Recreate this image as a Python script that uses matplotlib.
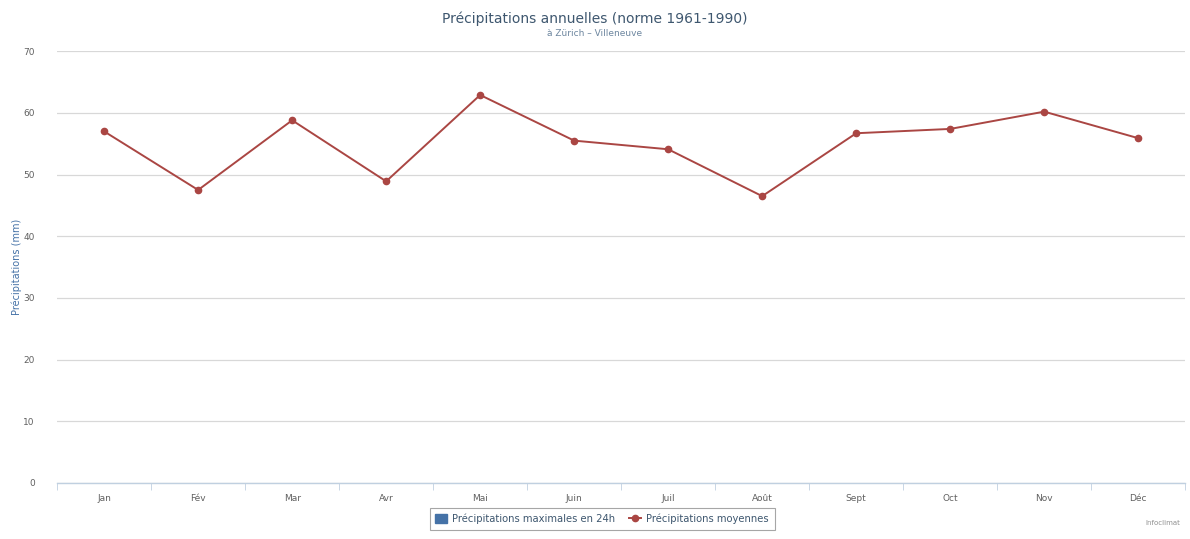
import matplotlib.pyplot as plt
from matplotlib.lines import Line2D
from matplotlib.patches import Patch
import numpy as np

months = ['Jan', 'Fév', 'Mar', 'Avr', 'Mai', 'Juin',
          'Juil', 'Août', 'Sept', 'Oct', 'Nov', 'Déc']
precip_moy = [57.0, 47.5, 58.8, 48.9, 62.9, 55.5,
              54.1, 46.5, 56.7, 57.4, 60.2, 55.9]
yticks = [0, 10, 20, 30, 40, 50, 60, 70]

red = '#AA4643'
blue = '#4572A7'
grid = '#D8D8D8'
txt = '#606060'

fig = plt.figure(figsize = (11.9, 5.39), dpi = 100)
ax = fig.add_axes([0.048, 0.104, 0.948, 0.801])

x = np.arange(len(months))
ax.plot(x, precip_moy, color = red, lw = 1.4, marker = 'o',
        ms = 4.5, mfc = red, mec = red, zorder = 3)

ax.set_xlim(-0.5, len(months) - 0.5)
ax.set_ylim(0, 70)
ax.set_yticks(yticks)
ax.set_yticklabels([str(v) for v in yticks], fontsize = 6.5, color = txt)
ax.set_xticks(x)
ax.set_xticklabels(months, fontsize = 6.5, color = txt)
ax.set_xticks(np.arange(-0.5, len(months), 1), minor = True)
ax.tick_params(axis = 'x', which = 'major', length = 0, pad = 8)
ax.tick_params(axis = 'x', which = 'minor', length = 5, color = '#C0D0E0')
ax.tick_params(axis = 'y', length = 0, pad = 16)

ax.yaxis.grid(True, color = grid, lw = 0.9)
ax.set_axisbelow(True)
for s in ['top', 'right', 'left']:
    ax.spines[s].set_visible(False)
ax.spines['bottom'].set_color('#C0D0E0')
ax.spines['bottom'].set_linewidth(1.0)

ax.set_ylabel('Précipitations (mm)', fontsize = 7, color = blue)
ax.yaxis.set_label_coords(-0.031, 0.5)

fig.text(0.5, 0.965, 'Précipitations annuelles (norme 1961-1990)',
         ha = 'center', va = 'center', fontsize = 10, color = '#3E576F')
fig.text(0.5, 0.938, 'à Zürich – Villeneuve',
         ha = 'center', va = 'center', fontsize = 6.5, color = '#6D869F')

handles = [
    Patch(facecolor = blue, edgecolor = blue),
    Line2D([], [], color = red, marker = 'o', ls = '-', lw = 1.4, ms = 4.5),
]
labels = ['Précipitations maximales en 24h', 'Précipitations moyennes']
leg = fig.legend(handles, labels, loc = 'center', bbox_to_anchor = (0.506, 0.037),
                 ncol = 2, fontsize = 7.2, frameon = True, fancybox = False,
                 edgecolor = '#909090', handlelength = 1.2, handleheight = 1.0,
                 columnspacing = 1.4, handletextpad = 0.5, borderpad = 0.55)
leg.get_frame().set_linewidth(0.8)
for t in leg.get_texts():
    t.set_color('#3E576F')

fig.text(0.992, 0.03, 'Infoclimat', ha = 'right', va = 'center',
         fontsize = 5, color = '#909090')

fig.savefig('out.png', dpi = 100)
